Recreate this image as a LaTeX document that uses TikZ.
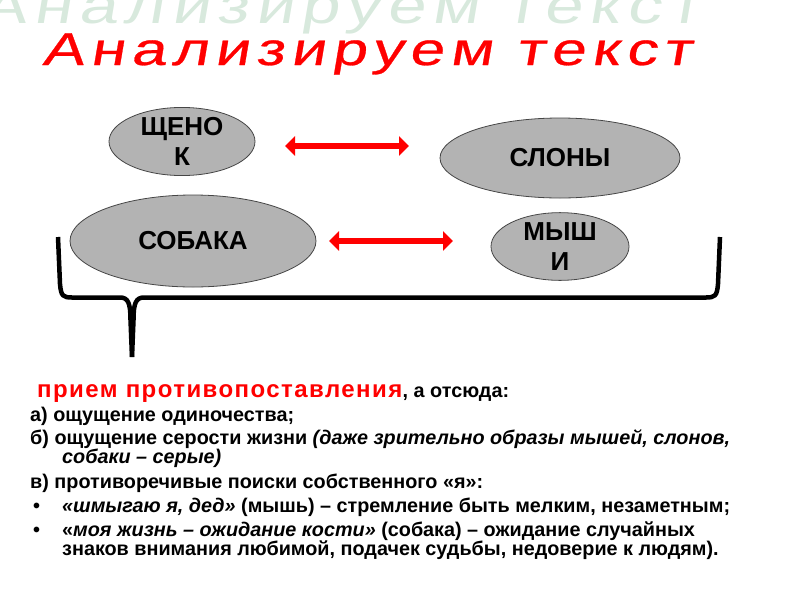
\documentclass[tikz,border=0pt]{standalone}
\usepackage{fontspec}
\setmainfont{Liberation Sans}
\newfontfamily\titlefont[FakeSlant=0.17,FakeStretch=1.35,LetterSpace=14,FakeBold=0.6]{Liberation Sans}
\newfontfamily\ghostfont[FakeSlant=0.17,FakeStretch=1.35,LetterSpace=14]{Liberation Sans}
\newfontfamily\redfont[LetterSpace=6]{Liberation Sans}
\usetikzlibrary{arrows.meta,shapes.geometric}
\definecolor{ghost}{RGB}{216,233,221}
\definecolor{ellfill}{RGB}{179,179,179}
\definecolor{ellline}{RGB}{70,70,70}
\tikzset{
  oval/.style={ellipse, draw=ellline, line width=0.8pt, fill=ellfill, inner sep=0pt,
    font=\bfseries\fontsize{26}{30}\selectfont, align=center},
  redarrow/.style={draw=red, line width=6.5pt,
    {Triangle[width=19pt,length=10pt]}-{Triangle[width=19pt,length=10pt]}},
  bracestyle/.style={line width=4.5pt, line join=round, line cap=butt},
  txt/.style={anchor=base west, inner sep=0pt, font=\bfseries\fontsize{19.8}{23}\selectfont},
}
\begin{document}
\begin{tikzpicture}[x=1pt,y=-1pt]
\useasboundingbox (0,0) rectangle (800,600);
% titles
\node[anchor=base west, inner sep=0pt, text=ghost, font=\ghostfont\fontsize{51}{51}\selectfont] (ghosttitle) at (-20,23) {Анализируем текст};
\node[anchor=base west, inner sep=0pt, text=red, font=\titlefont\fontsize{46}{46}\selectfont] (title) at (42,65) {Анализируем текст};
% ovals
\node[oval, minimum width=146pt, minimum height=63pt] (shch) at (182,141.5) {ЩЕНО\\К};
\node[oval, minimum width=240pt, minimum height=80pt] (slon) at (560,158) {СЛОНЫ};
\node[oval, minimum width=246pt, minimum height=92pt] (sob) at (193,241) {СОБАКА};
\node[oval, minimum width=138pt, minimum height=63pt] (mysh) at (560,246.5) {МЫШ\\И};
% arrows
\coordinate (a1s) at (285,146);
\coordinate (a1e) at (409,146);
\coordinate (a2s) at (329,241);
\coordinate (a2e) at (453,241);
\draw[redarrow] (a1s) -- (a1e);
\draw[redarrow] (a2s) -- (a2e);
% brace
\coordinate (bl) at (58,237);
\coordinate (br) at (720,237);
\coordinate (tip) at (132,357);
\draw[bracestyle] (bl) -- (60,284) .. controls (61,296) and (63,297.5) .. (72,297.5)
  -- (120,297.5) .. controls (128,297.5) and (130.5,303) .. (130.5,320) -- (tip);
\draw[bracestyle] (br) -- (718,284) .. controls (717,296) and (715,297.5) .. (706,297.5)
  -- (144,297.5) .. controls (136,297.5) and (133.5,303) .. (133.5,320) -- (tip);
% text
\node[txt, text=red, font=\redfont\bfseries\fontsize{24}{28}\selectfont] (l1a) at (37,397) {прием противопоставления};
\node[txt] (l1b) at (l1a.base east) {, а отсюда:};
\node[txt] (l2) at (30,421) {а) ощущение одиночества;};
\node[txt] (l3) at (30,444) {б) ощущение серости жизни \textit{(даже зрительно образы мышей, слонов,}};
\node[txt] (l4) at (62,463) {\textit{собаки – серые)}};
\node[txt] (l5) at (30,488) {в) противоречивые поиски собственного «я»:};
\node[txt] (b1) at (33,512) {•};
\node[txt] (l6) at (62,512) {\textit{«шмыгаю я, дед»} (мышь) – стремление быть мелким, незаметным;};
\node[txt] (b2) at (33,536) {•};
\node[txt] (l7) at (62,536) {«\textit{моя жизнь – ожидание кости»} (собака) – ожидание случайных};
\node[txt] (l8) at (62,555) {знаков внимания любимой, подачек судьбы, недоверие к людям).};
\end{tikzpicture}
\end{document}
